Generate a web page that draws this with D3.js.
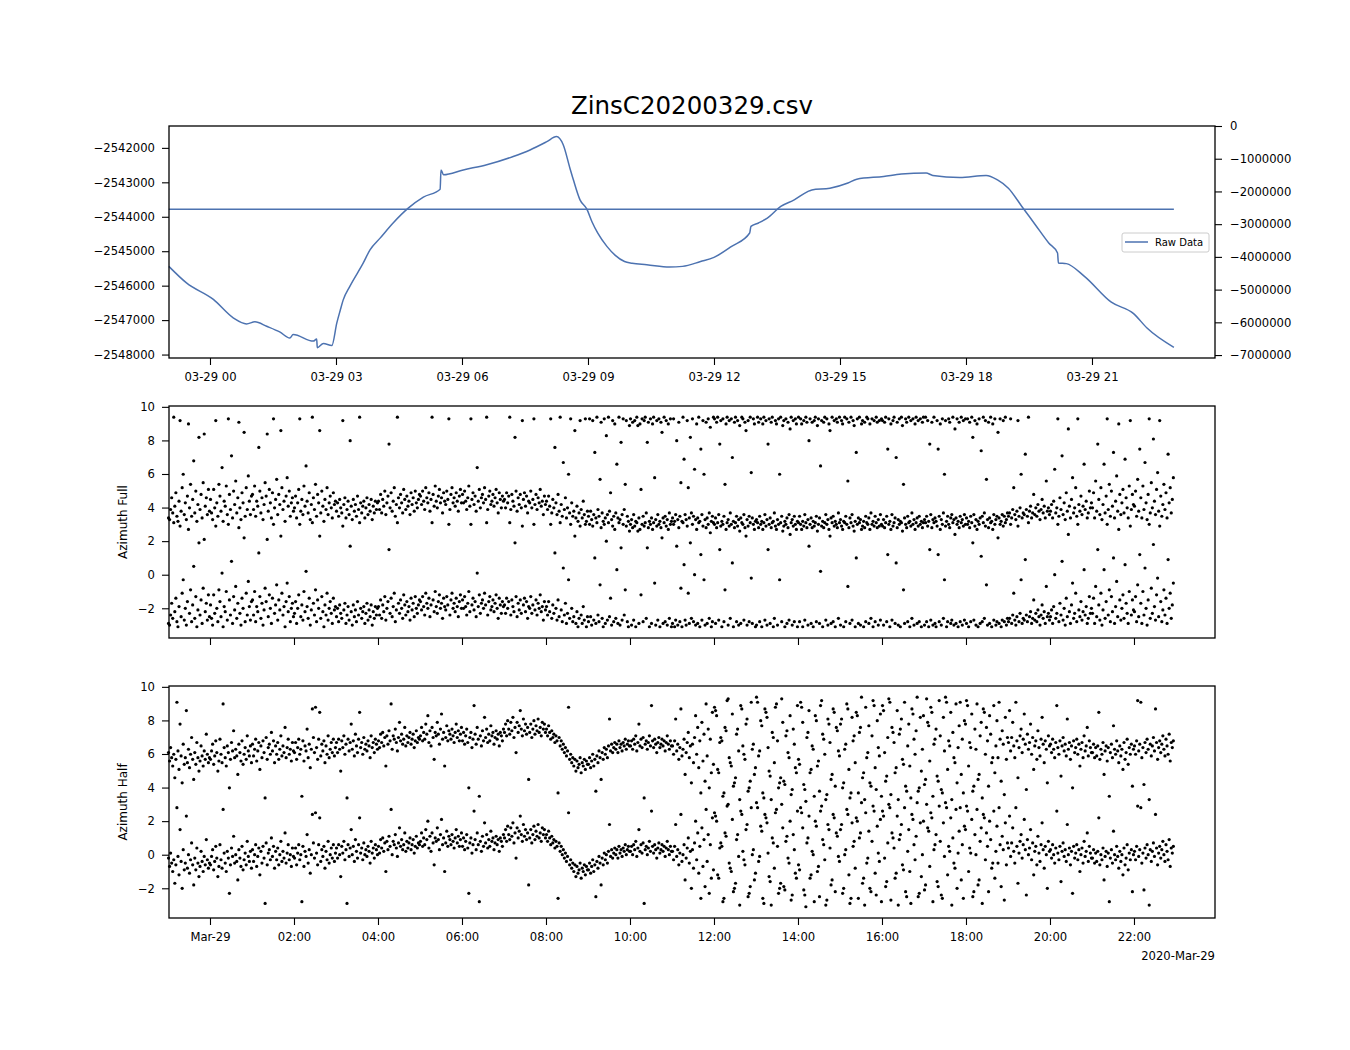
<!DOCTYPE html>
<html>
<head>
<meta charset="utf-8">
<script src="https://cdn.jsdelivr.net/npm/d3@7"></script>
<style>
  body { margin: 0; background: #fff; }
  text { font-family: "DejaVu Sans", sans-serif; }
</style>
</head>
<body>
<svg id="chart" width="1350" height="1050"></svg>
<script>
// raw data: hours from midnight 2020-03-29 (negative = evening of the 28th)
var rawHours = [-0.98, -0.56, 0.08, 0.56, 0.87, 1.07, 1.35, 1.67, 1.90, 1.98,
    2.46, 2.54, 2.555, 2.70, 2.90, 3.02, 3.10, 3.17, 3.33, 3.65, 3.81,
    4.05, 4.36, 4.72, 5.08, 5.48, 5.50, 5.56, 6.03, 6.59, 7.22,
    7.62, 8.02, 8.25, 8.41, 8.57, 8.65, 8.81, 8.97, 9.10, 9.23, 9.45, 9.65, 9.87, 10.05,
    10.40, 10.94, 11.25, 11.68, 12.00, 12.42, 12.85, 12.88, 13.06, 13.27,
    13.59, 13.91, 14.23, 14.33, 14.76, 15.19, 15.40, 16.04, 16.46, 17.05,
    17.21, 17.85, 18.48, 18.75, 19.01, 19.33, 19.65, 19.97, 20.18, 20.20,
    20.39, 20.82, 21.46, 21.99, 22.31, 22.95];
var rawValues = [-2545440, -2545920, -2546400, -2546940, -2547110, -2547050, -2547180, -2547350, -2547520, -2547420,
    -2547610, -2547550, -2547800, -2547680, -2547740, -2547080, -2546720, -2546420, -2546020, -2545340, -2544960,
    -2544620, -2544180, -2543750, -2543430, -2543200, -2542640, -2542780, -2542640, -2542490, -2542250,
    -2542060, -2541820, -2541672, -2541910, -2542590, -2542920, -2543510, -2543770, -2544160, -2544470, -2544860, -2545120, -2545300, -2545350,
    -2545390, -2545460, -2545440, -2545300, -2545180, -2544860, -2544470, -2544280, -2544180, -2544040,
    -2543700, -2543510, -2543270, -2543220, -2543170, -2543020, -2542910, -2542830, -2542760, -2542730,
    -2542800, -2542860, -2542800, -2542930, -2543170, -2543700, -2544230, -2544760, -2545050, -2545340,
    -2545360, -2545730, -2546480, -2546810, -2547230, -2547790];

// azimuth angles (rad), one row per hour starting 23:00 on the 28th,
// one sample every 1.5 minutes; each sample is also shown shifted by 2*pi
var fullAzimuth = [
    [-2.9, -3.0, -2.4, -1.7, -2.6, 3.1, -2.2, -1.4, -2.8, -3.1, -1.9, 2.9, -2.5, -1.1, -0.3, -2.7, -2.0, -3.0, -1.6, 2.7, -2.3, -0.9, -2.8, -1.8, 0.5, -2.6, -1.3, -3.1, -2.1, 1.9, -2.4, -1.5, -2.9, -0.8, 2.1, -2.2, -1.7, -2.7, -1.2, -2.5],
    [-1.8, -2.6, -3.0, -1.2, -2.3, 2.9, -2.0, -2.8, -0.9, -1.6, -2.5, 0.1, -3.1, -1.9, -2.2, -1.0, -2.7, 3.0, -1.5, -2.4, 0.8, -2.9, -1.3, -2.1, -0.7, -2.6, -1.7, 2.8, -2.3, -3.0, -1.4, -2.0, 2.2, -2.8, -1.1, -2.4, -0.4, -1.9, -2.7, -1.6],
    [-1.5, -2.4, -1.0, -2.8, -1.9, -2.2, 1.3, -1.3, -2.6, -1.7, -3.0, -2.1, -0.8, -1.6, 2.1, -2.5, -1.2, -2.0, -2.9, -1.4, 3.0, -2.3, -1.8, -0.6, -2.7, -1.5, -2.1, 2.3, -1.1, -2.4, -1.9, -3.1, -1.6, -0.5, -2.2, -1.3, -2.8, -2.0, -1.7, -2.5],
    [-2.3, -1.6, -2.9, -2.0, -1.2, 3.0, -2.5, -1.8, -2.7, -1.0, -2.2, 0.2, -1.9, -2.6, -1.4, -3.0, -2.1, 3.1, -1.7, -2.4, -0.9, -2.8, -1.5, -2.0, 2.3, -2.6, -1.3, -2.2, -3.1, -1.8, -2.4, -1.1, -2.7, -2.0, -1.6, -2.3, -2.9, -1.4, -2.1, -1.9],
    [-2.5, -2.0, -2.8, -1.8, -2.3, -2.6, 2.9, -2.1, -1.7, -2.9, -2.4, -1.9, -2.7, 1.7, -2.2, -3.0, -1.8, -2.5, -2.1, -2.8, -1.6, -2.4, 3.1, -2.0, -2.6, -2.2, -1.9, -2.9, -2.3, -1.7, -2.7, -2.1, -2.5, -1.8, -3.0, -2.2, -2.6, -1.9, -2.4, -2.0],
    [-1.9, -2.4, -1.5, -2.6, -1.8, -2.2, -1.3, -2.7, -2.0, -1.6, 1.5, -2.3, -1.4, -2.5, -1.9, -1.1, -2.8, -2.1, 3.1, -1.7, -2.3, -1.5, -2.0, -2.6, -1.2, -1.8, -2.4, -1.6, -2.2, -1.9, -2.7, -1.4, -2.1, -1.7, -2.5, -1.3, -2.0, -2.3, -1.8, -1.5],
    [-1.6, -2.1, -1.3, -1.9, -2.4, -1.1, -1.7, -2.0, -1.4, -2.5, -1.8, 3.1, -1.5, -2.2, -1.0, -1.9, -2.3, -1.6, -1.2, -2.0, -1.7, -2.6, -1.4, -1.9, -2.1, -1.3, -1.8, 3.0, -2.4, -1.5, -1.1, -2.0, -1.7, -2.2, -1.4, -1.9, -2.5, -1.6, -1.2, -2.0],
    [-1.5, -2.0, -1.3, -1.9, -2.4, -1.7, -1.0, -2.2, 3.0, -1.8, -1.4, -2.1, -1.6, -2.5, 0.1, -1.9, -1.2, -2.3, -1.7, -1.5, -2.0, -1.1, -1.8, 3.1, -2.4, -1.6, -1.3, -2.1, -1.9, -1.5, -2.2, -1.7, -1.2, -2.0, -2.6, -1.4, -1.8, -2.3, -1.6, -1.9],
    [-1.8, -2.3, -1.4, -2.0, -1.6, 3.1, -2.4, -1.5, -1.9, -2.2, 1.9, -1.3, -2.5, -1.7, -2.1, -1.5, -2.3, 2.9, -1.8, -1.4, -2.2, -1.6, -2.6, -1.9, -2.0, -1.3, -2.3, -1.8, 3.0, -2.1, -1.5, -2.4, -1.7, -2.0, -1.2, -2.2, -1.9, -2.7, -1.6, -2.1],
    [-1.9, -2.4, -1.6, -2.2, 3.0, -2.6, -1.8, -2.3, 1.3, -2.0, -2.7, -1.5, -2.5, 3.1, -2.1, -2.8, 0.4, -2.4, -1.7, -2.9, -2.3, -0.3, -2.6, 3.0, -2.0, -2.8, -2.5, 2.3, -2.9, -2.2, -3.1, -2.6, 2.9, -2.4, -2.9, -1.9, -2.7, 3.0, -3.1, -2.5],
    [-2.8, 3.0, -2.5, -3.0, 2.9, -2.7, 1.0, -2.9, 3.1, -2.4, -2.8, -0.6, 2.8, -2.6, -3.1, 3.0, -2.9, 2.0, -2.7, 3.1, -2.5, -1.4, -3.0, 2.9, -2.8, 2.7, -2.6, 0.3, -2.9, 3.1, -3.0, 1.6, -2.7, 3.0, -2.4, -0.9, 2.9, -2.8, -3.1, 2.6],
    [3.0, -3.0, 2.8, -2.7, 2.9, -3.1, 3.1, 2.6, -2.9, 2.7, -1.2, 3.0, -2.8, 2.9, 3.1, -2.6, 1.6, 2.8, -3.1, 3.0, -2.9, 2.7, 3.1, -0.5, -3.0, 2.9, -2.7, 3.0, -3.1, 2.8, 2.2, -2.9, 3.1, -2.8, 2.9, -3.0, 2.7, -2.6, 3.0, -3.1],
    [-2.9, 3.0, -3.1, -2.7, 1.7, -3.0, 2.8, -2.8, -0.8, -3.1, 3.1, 0.6, -2.7, -3.0, 2.9, -1.1, -2.9, 1.9, -2.6, 3.0, -2.8, 0.0, -3.0, 2.7, -2.9, 3.1, -3.1, 1.2, -2.7, 2.9, -0.3, -3.0, 2.8, -2.9, 3.0, -2.6, 2.5, -3.1, -2.8, 3.1],
    [3.0, -2.9, 2.8, 3.1, -2.7, 1.5, 2.9, -3.1, 3.0, -2.8, -0.9, 2.7, 3.1, -3.0, 2.9, -2.6, 3.0, 0.7, -3.1, 2.8, 3.1, -2.8, 2.9, -3.0, 2.6, -2.9, 3.1, 3.0, -2.7, 2.8, 2.3, -3.0, 2.9, -2.8, 3.1, -0.2, -2.9, 3.0, 2.7, -3.1],
    [-3.0, 3.1, 2.8, -2.8, 3.0, -3.1, 2.7, 3.1, -2.7, 2.9, -3.0, 1.5, 3.0, -2.9, 2.8, 3.1, -3.1, -2.6, 2.9, 2.7, -3.0, 3.0, -0.3, 3.1, -2.8, 2.6, 2.9, -3.1, 3.0, -2.9, 2.8, -2.7, 2.4, 3.1, -3.0, 2.9, -2.8, 3.0, 2.7, -3.1],
    [3.1, -2.8, 3.0, 2.7, -3.1, 2.9, -2.7, 3.1, 2.8, -3.0, 1.7, 3.0, -2.9, 2.8, -3.1, 2.9, 3.1, -2.8, 2.6, 3.0, -2.9, 0.2, 2.9, -3.1, 2.8, 3.1, -2.7, 3.0, -3.0, 2.7, 2.3, -2.9, 3.1, -2.8, 2.9, -3.1, 3.0, 2.8, -2.6, 3.1],
    [-3.0, 2.9, 2.7, -3.1, 3.1, -2.8, 3.0, -0.7, 2.8, -2.9, 3.1, -2.7, 2.9, 2.6, -3.1, 1.0, 3.0, -2.9, 3.1, -3.0, 2.7, 2.9, -3.1, 2.8, -2.8, 3.1, 3.0, -2.9, 2.7, -2.6, 3.0, -3.1, 2.9, -2.8, 3.1, 2.8, -3.0, 2.9, -2.7, 3.0],
    [2.9, -3.0, 2.8, 3.1, -2.8, 1.2, 3.0, -3.1, 2.7, -2.7, 2.9, 3.1, -2.9, 0.7, 2.8, -3.0, 3.0, -3.1, 3.1, 2.6, -0.9, -2.9, 3.0, 2.8, -2.8, 3.1, -3.1, 2.9, -2.6, 3.0, -3.0, 2.7, 3.1, -2.9, 2.9, -2.8, 3.0, -3.1, 2.8, 3.1],
    [-3.0, 3.1, -2.8, 2.9, -3.1, 1.5, -2.7, 2.8, -3.0, 3.1, -2.9, -3.1, 2.9, 1.2, -2.8, 2.7, -3.0, 3.0, -2.6, -0.3, 2.9, -3.1, -2.8, 3.0, 2.8, -2.9, -2.7, 3.1, -3.0, 2.4, -2.9, 3.0, -3.1, 2.8, -2.8, 3.1, -3.0, 2.9, -2.7, 3.0],
    [-2.9, 3.0, -3.1, 2.8, -2.8, 3.1, 1.9, -2.7, 2.9, -3.0, 2.7, -3.1, 3.0, -2.9, 1.1, -2.8, 3.1, -2.6, 2.9, -0.6, -3.0, 2.8, -2.9, 3.1, -3.1, 2.7, -2.7, 3.0, -3.0, -2.8, 2.2, -2.9, 3.0, -3.1, -2.7, 2.9, -2.8, 3.1, -3.0, -2.6],
    [-2.8, -2.6, 3.0, -2.9, -2.4, -1.1, -2.7, -3.0, -2.5, 2.9, -2.8, -2.3, -0.3, -2.9, -2.6, -2.7, 0.9, -2.4, -2.8, 3.1, -2.5, -2.2, -2.9, -2.6, -1.5, -2.7, -2.3, -2.8, -2.1, -2.5, -3.0, -2.4, -1.8, -2.6, -2.2, -2.9, -0.7, -2.5, -2.3, -2.7],
    [-2.5, -2.1, -2.9, -1.9, 0.0, -2.6, -2.3, 3.0, -2.8, -1.7, -2.4, 0.8, -2.7, -2.0, -3.0, -1.4, -2.5, 2.4, -2.2, -2.9, -1.8, -0.5, -2.6, -2.3, -1.1, -2.8, 3.0, -2.1, -2.5, -1.6, -2.7, -2.2, 0.3, -2.4, -1.9, -2.9, -2.6, -1.3, -2.3, -2.0],
    [-2.3, -1.4, -2.9, -0.7, -2.5, 1.5, -1.8, -2.7, -1.1, -3.0, -2.1, 0.3, -2.6, -1.6, 3.0, -2.4, -0.9, -2.8, -1.3, -2.2, 1.0, -2.9, -1.9, -0.4, -2.5, 2.7, -1.5, -2.7, -2.0, -1.2, -2.6, 0.6, -1.7, -2.3, -2.9, -1.0, 2.9, -2.4, -1.5, -2.1],
    [-2.2, -1.3, -2.8, -0.6, -2.5, 1.2, -1.7, -2.9, -1.0, -2.4, 0.4, -2.0, -3.0, -1.5, 3.0, -2.6, -0.8, -2.3, 1.8, -1.9, -2.7, -1.2, -0.2, -2.5, 2.9, -1.6, -2.8, -2.1, -0.9, -2.4, -1.4, -2.9, 0.9, -2.0, -1.1, -2.6, -1.8, -0.5]
];
var halfAzimuth = [
    [-0.2, -0.7, 0.1, -0.5, -1.0, -0.3, -1.7, -0.6, 2.8, -0.1, -1.2, 1.5, -0.4, -2.0, 0.3, -0.9, -0.5, 2.3, -0.8, 0.0, -1.1, -0.3, 0.7, -0.6, -1.8, -0.2, -0.9, 0.4, -0.5, -1.3, -0.7, 0.2, -0.4, -1.0, -0.1, -0.6, 0.9, -0.3, -0.8, -0.5],
    [-0.6, -0.1, 0.3, -0.9, -0.4, 0.5, -0.2, -1.3, -0.7, 0.6, -0.3, -0.8, 2.7, 0.1, -0.5, -1.0, 0.2, -0.2, -2.3, -0.6, 0.4, -0.1, 1.1, -0.5, 0.0, -0.4, -1.5, 0.3, -0.2, -0.7, 0.5, -0.9, -0.3, 0.1, -0.6, 0.8, -0.1, -0.4, 0.2, -0.8],
    [0.3, -0.4, 0.0, 0.6, -0.7, -0.1, 0.4, -1.2, 0.2, -0.5, 0.5, -0.2, -2.9, 0.7, -0.6, 0.1, 0.3, -0.3, 1.0, -0.1, 0.5, -0.8, 0.2, -0.3, 0.4, -0.6, 0.0, 0.8, -0.4, 0.2, -0.2, 1.3, -0.5, 0.1, 0.6, -0.3, 0.0, -0.7, 0.4, -0.1],
    [-0.2, 0.4, -0.6, 0.1, 0.6, -0.3, 0.0, -2.8, 0.5, -0.7, 0.2, -0.1, 1.2, -0.5, 0.3, -1.1, 0.0, 2.4, 0.7, -0.2, 2.5, 0.1, -0.6, 0.6, 2.2, -0.4, 0.3, -0.1, 0.5, -0.8, 0.2, -0.3, 0.8, -0.5, 0.0, 0.4, -0.2, 0.6, -0.4, 0.1],
    [0.4, -0.2, 0.6, 0.0, -1.3, 0.5, 0.1, 0.8, -0.3, 0.3, -2.9, 0.6, -0.1, 0.4, 1.5, 0.0, 0.5, -0.4, 0.9, 0.2, -0.2, 0.6, 2.2, 0.1, 0.4, -0.3, 0.7, 0.0, 0.3, -0.1, 0.5, 0.2, -0.5, 0.8, 0.1, 0.4, -0.2, 0.6, 0.3, 0.0],
    [0.5, 0.1, 0.9, 0.4, 1.0, 0.2, 0.7, -1.0, 0.8, 0.3, 1.1, 0.5, 2.7, 0.0, 0.8, 0.6, 1.2, 0.4, -0.1, 0.7, 1.6, 0.5, 0.9, 0.3, 0.6, 1.3, 0.2, 0.8, 0.4, 0.7, 1.0, 0.3, 0.6, 0.9, 0.1, 0.5, 1.1, 0.4, 0.7, 0.6],
    [0.8, 1.3, 0.5, 1.0, 0.6, 1.5, 0.9, 2.0, 0.4, 1.1, 0.2, 1.3, 0.7, -0.6, 1.0, 0.8, 1.6, 0.9, 0.3, 1.2, 2.1, 0.6, 1.0, -1.0, 0.7, 1.4, 0.5, 1.1, 0.9, 0.6, 1.2, 0.8, 0.4, 1.0, 1.5, 0.7, 1.1, 0.5, 0.9, 1.3],
    [0.5, 1.0, 0.3, 0.8, 1.2, 0.4, -2.3, 0.7, 1.0, 0.1, 0.6, 2.6, 0.9, 0.3, 1.3, 0.6, -2.8, 0.8, 0.2, 1.1, 0.5, 1.9, 0.7, 1.2, 0.4, 0.9, 0.5, 1.4, 0.8, 1.0, 0.3, 0.7, 1.1, 0.6, 0.9, 0.2, 1.0, 0.8, 0.5, 1.2],
    [1.0, 1.5, 0.8, 1.7, 1.2, 0.9, 1.6, 1.1, 1.9, 0.7, 1.3, -0.2, 1.6, 1.0, 1.4, 2.3, 1.2, 0.8, 1.8, 1.1, 1.5, 0.9, 1.3, -1.8, 1.0, 1.5, 0.7, 1.2, 1.7, 0.9, 1.4, 1.1, 1.8, 1.0, 1.3, 0.8, 1.6, 1.2, 1.5, 1.0],
    [1.2, 0.8, 1.4, 1.0, 0.6, 1.1, 0.7, 0.9, 0.4, 0.8, 0.5, -2.6, 0.7, 0.2, 0.5, 0.0, 0.3, -0.2, 0.1, -0.4, -0.1, 2.5, -0.6, -0.3, -0.8, -0.5, -1.0, -0.6, -1.3, -0.7, -1.1, -0.9, -0.5, -1.4, -0.8, -1.0, -0.6, -1.2, -0.7, -0.9],
    [-0.9, -0.5, -1.1, -0.7, -0.3, -1.0, -0.6, -2.5, -0.4, -0.8, -0.1, -0.5, -1.8, -0.2, -0.6, 0.1, -0.3, 0.0, -0.5, 0.2, 1.8, -0.1, 0.3, -0.2, 0.1, 0.4, 0.0, 0.3, -0.2, 0.5, 0.1, 0.3, -0.1, 0.4, 0.2, 0.6, 0.0, 0.3, 0.5, 0.2],
    [0.2, 0.5, 0.0, 0.6, 0.3, 0.8, -0.1, 0.4, 1.5, 0.2, 0.6, 0.1, 0.7, -2.9, 0.3, 0.5, 0.0, 0.4, 0.8, 0.2, 2.6, 0.5, 0.1, 0.6, 0.3, -0.2, 0.4, 0.7, 0.1, 0.3, 0.6, 0.2, 0.5, -0.1, 0.4, 0.8, 0.3, 0.0, 0.5, 0.2],
    [0.2, -0.3, 0.5, 1.8, -0.1, 0.3, -0.6, 0.1, 2.4, -0.4, 0.0, 0.6, -1.5, -0.2, 0.4, 1.0, -0.5, 0.2, -2.0, 0.3, -0.8, 0.7, 2.0, -0.3, 1.3, -1.1, 0.5, -2.6, 1.6, -0.7, 0.9, -1.9, 2.7, -0.4, 1.2, -2.3, 0.6, -1.4, 2.2, -0.9],
    [2.5, 2.3, 2.0, -1.2, -1.4, 0.4, 0.7, 0.5, -2.8, -2.6, 1.3, 1.1, 2.9, 3.0, -0.5, -0.8, -1.0, 2.1, -2.2, -2.0, -1.7, 0.9, 1.2, -0.1, -3.0, 2.6, 2.4, 0.2, -0.3, -0.6, 1.5, 1.8, -2.5, -2.3, -1.9, 2.8, 0.0, 0.3, -1.5, -1.1],
    [3.1, 2.8, -0.4, -0.1, 1.7, 1.4, -2.6, -2.9, 2.4, 2.2, 1.9, 0.1, -1.3, -1.6, -3.0, 1.0, 0.7, -0.8, 2.5, 2.7, 0.5, -2.3, -2.0, -1.7, 3.0, 1.6, -1.9, -2.1, 0.8, 1.1, -0.2, -0.5, 2.0, -2.7, -2.4, 1.2, 0.3, -1.1, -1.4, 2.6],
    [-0.6, -0.9, 2.8, 2.5, 1.6, -2.1, -2.4, -3.1, 0.7, 1.0, 2.3, -1.4, -1.2, 0.2, 0.0, -2.8, 2.0, 1.7, -1.0, -0.7, -2.5, 2.6, 2.9, 0.9, 0.6, -0.3, -3.0, -2.7, 1.8, 1.5, 0.4, -1.8, -1.5, 2.4, 2.2, -2.2, 1.3, 1.1, -0.1, -0.4],
    [1.5, 1.8, -2.3, -2.0, 0.0, 0.3, 2.7, 2.4, -1.2, -2.9, -2.6, 1.9, 0.5, 0.8, -0.8, 2.2, 2.0, -2.6, 1.0, 1.3, 3.1, -1.7, -1.4, -3.0, 2.5, -0.5, -0.2, 1.4, -2.0, -2.2, 0.8, 2.9, 2.6, -1.1, -2.4, 1.7, 0.1, -0.4, 2.1, -2.8],
    [2.6, 2.3, -0.2, -1.9, -1.6, 0.7, 3.0, 2.8, -2.7, 1.3, 1.0, 0.4, -1.4, -1.1, 2.3, -3.0, 0.9, 1.2, 1.8, -0.6, -0.9, 2.8, -2.2, -2.5, 0.2, 1.5, -1.0, -2.9, 2.4, 2.1, 0.6, -0.3, 1.1, 3.1, -2.5, -2.3, 1.9, -1.3, 0.0, 2.0],
    [-2.1, -1.8, 3.0, 1.6, 1.4, -0.7, 2.5, 2.2, -2.8, 0.3, 0.6, 1.2, -1.6, -1.9, 2.9, 0.8, -2.4, -2.6, 1.9, -0.1, 3.1, 2.8, -1.2, 0.5, 0.2, 2.2, -3.0, 1.0, -0.5, -0.8, 2.7, -2.0, 0.1, 1.4, 2.8, -1.5, 0.6, -2.6, 1.7, 1.5],
    [2.9, 2.6, -1.0, 0.4, 0.1, 2.1, -2.5, -2.2, 1.2, 0.0, 2.7, -1.8, -1.5, 0.8, 1.6, -2.9, 2.4, 2.2, -0.3, 1.3, 0.5, -2.2, 2.0, 0.9, -0.8, -0.5, 2.6, -1.4, 0.2, 1.7, -0.5, 2.8, 0.6, -1.9, 1.1, 0.3, -2.7, 1.9, -0.6, 0.7],
    [0.4, 2.3, -0.1, 0.7, 1.6, 0.2, -0.5, 2.8, 0.5, -1.7, 0.1, 0.8, 1.2, -0.2, 0.6, 2.1, 0.3, -2.4, 0.9, 0.0, 0.4, 1.5, -0.3, 0.7, -1.2, 0.2, 0.5, -0.6, 1.1, 0.1, -0.4, 0.6, 1.9, 0.3, -0.8, 0.5, 0.0, -2.0, 0.8, 0.2],
    [0.3, -0.2, 0.6, 0.0, -0.5, 0.4, 2.6, 0.1, -0.3, 0.5, -1.6, 0.2, 0.7, -0.1, 0.3, -0.4, 1.8, 0.0, 0.4, -0.6, 0.2, -2.3, 0.5, -0.2, 0.1, 0.6, -0.3, 0.3, -1.0, 0.0, 0.4, -0.5, 0.8, -0.1, 0.2, 1.3, -0.4, 0.5, 0.1, -0.2],
    [-0.2, 0.3, -0.5, 0.1, -0.4, 0.2, 2.2, -0.6, 0.0, -0.3, 0.4, -1.5, -0.1, 0.2, -0.7, 0.1, -2.8, -0.2, 0.3, -0.5, 1.4, 0.0, -0.3, 0.5, -0.1, -0.8, 0.2, -0.4, 0.0, -1.2, 0.4, -0.6, -0.2, 0.6, -0.9, 0.1, -0.3, 0.3, -2.2, 0.0],
    [0.2, -0.3, 0.5, 2.9, -0.1, 0.3, 2.8, -0.5, 0.1, -2.1, 0.4, -0.2, 0.6, 0.0, -3.0, 0.3, -0.4, 0.2, 0.7, -0.1, 2.4, 0.4, -0.6, 0.1, 0.5, -0.2, 0.3, 0.8, 0.0, -0.4, 0.6, 0.2, -0.3, 0.9, -0.7, 0.4, 0.1, 0.5]
];

var leftTicks = [-2548000, -2547000, -2546000, -2545000, -2544000, -2543000, -2542000];
var rightTicks = [0, -1000000, -2000000, -3000000, -4000000, -5000000, -6000000, -7000000];
var azTicks = [-2, 0, 2, 4, 6, 8, 10];
var topTickHours = [0, 3, 6, 9, 12, 15, 18, 21];
var bottomTickHours = [0, 2, 4, 6, 8, 10, 12, 14, 16, 18, 20, 22];
var sampleMinutes = 1.5;

var day = new Date(2020, 2, 29);
function hourToDate(h) { return new Date(day.getTime() + h * 3600e3); }

var svg = d3.select('#chart');
var left = 169, right = 1215;
var panels = [{ top: 126, bottom: 358 }, { top: 406, bottom: 638 }, { top: 686, bottom: 918 }];
var blue = '#4c72b0';
var tickFont = '11.6px';

var x = d3.scaleTime()
    .domain([hourToDate(-0.976), hourToDate(23.929)])
    .range([left, right]);

var yLeft = d3.scaleLinear().domain([-2548100, -2541365]).range([panels[0].bottom, panels[0].top]);
var yRight = d3.scaleLinear().domain([-7090000, 0]).range([panels[0].bottom, panels[0].top]);

function styleAxis(g) {
    g.selectAll('path').remove();
    g.selectAll('line').attr('stroke', '#000').attr('stroke-width', 1.1);
    g.selectAll('text').style('font-size', tickFont).attr('fill', '#000');
}

function frame(p) {
    svg.append('rect')
        .attr('x', left).attr('y', p.top)
        .attr('width', right - left).attr('height', p.bottom - p.top)
        .attr('fill', 'none').attr('stroke', '#000').attr('stroke-width', 1.3);
}

// title
svg.append('text')
    .attr('x', (left + right) / 2).attr('y', 114)
    .attr('text-anchor', 'middle')
    .style('font-size', '24.5px')
    .text('ZinsC20200329.csv');

// ---- top panel
var rawPoints = rawHours.map((h, i) => [hourToDate(h), rawValues[i]]);

var lineLeft = d3.line().x(d => x(d[0])).y(d => yLeft(d[1])).curve(d3.curveMonotoneX);
var lineRight = d3.line().x(d => x(d[0])).y(d => yRight(d[1]));

svg.append('path')
    .attr('d', lineLeft(rawPoints))
    .attr('fill', 'none').attr('stroke', blue).attr('stroke-width', 1.5)
    .attr('stroke-linejoin', 'round');

// same series on the twin axis (appears flat at that scale)
svg.append('path')
    .attr('d', lineRight(rawPoints))
    .attr('fill', 'none').attr('stroke', blue).attr('stroke-width', 1.5);

svg.append('g')
    .attr('transform', `translate(${left},0)`)
    .call(d3.axisLeft(yLeft).tickValues(leftTicks).tickFormat(d3.format('d')).tickSize(7).tickPadding(7))
    .call(styleAxis);

svg.append('g')
    .attr('transform', `translate(${right},0)`)
    .call(d3.axisRight(yRight).tickValues(rightTicks).tickFormat(d3.format('d')).tickSize(7).tickPadding(8))
    .call(styleAxis);

svg.append('g')
    .attr('transform', `translate(0,${panels[0].bottom})`)
    .call(d3.axisBottom(x).tickValues(topTickHours.map(hourToDate))
        .tickFormat(d3.timeFormat('%m-%d %H')).tickSize(7).tickPadding(8))
    .call(styleAxis);

frame(panels[0]);

// legend
var legend = svg.append('g').attr('transform', 'translate(1122,233)');
legend.append('rect')
    .attr('width', 87).attr('height', 19).attr('rx', 2)
    .attr('fill', '#fff').attr('stroke', '#cccccc').attr('stroke-width', 1);
legend.append('line')
    .attr('x1', 3).attr('x2', 26).attr('y1', 9).attr('y2', 9)
    .attr('stroke', blue).attr('stroke-width', 1.5);
legend.append('text')
    .attr('x', 33).attr('y', 13)
    .style('font-size', '10px')
    .text('Raw Data');

// ---- azimuth panels
function scatterPanel(p, rows, label, showLabels) {
    var y = d3.scaleLinear().domain([-3.77, 10.05]).range([p.bottom, p.top]);
    var pts = [];
    rows.forEach((row, k) => {
        row.forEach((a, j) => {
            var t = hourToDate(k - 1 + (sampleMinutes / 2 + sampleMinutes * j) / 60);
            pts.push([t, a]);
            pts.push([t, a + 2 * Math.PI]);
        });
    });

    svg.append('g').selectAll('circle')
        .data(pts)
        .join('circle')
        .attr('cx', d => x(d[0]))
        .attr('cy', d => y(d[1]))
        .attr('r', 1.6)
        .attr('fill', '#000');

    svg.append('g')
        .attr('transform', `translate(${left},0)`)
        .call(d3.axisLeft(y).tickValues(azTicks).tickFormat(d3.format('d')).tickSize(7).tickPadding(7))
        .call(styleAxis);

    var xa = d3.axisBottom(x).tickValues(bottomTickHours.map(hourToDate)).tickSize(7).tickPadding(8);
    if (showLabels) {
        xa.tickFormat(d => d.getHours() === 0 ? d3.timeFormat('%b-%d')(d) : d3.timeFormat('%H:%M')(d));
    } else {
        xa.tickFormat('');
    }
    svg.append('g')
        .attr('transform', `translate(0,${p.bottom})`)
        .call(xa)
        .call(styleAxis);

    svg.append('text')
        .attr('transform', `translate(127,${(p.top + p.bottom) / 2}) rotate(-90)`)
        .attr('text-anchor', 'middle')
        .style('font-size', '12px')
        .text(label);

    frame(p);
}

scatterPanel(panels[1], fullAzimuth, 'Azimuth Full', false);
scatterPanel(panels[2], halfAzimuth, 'Azimuth Half', true);

svg.append('text')
    .attr('x', right).attr('y', 960)
    .attr('text-anchor', 'end')
    .style('font-size', tickFont)
    .text('2020-Mar-29');
</script>
</body>
</html>
